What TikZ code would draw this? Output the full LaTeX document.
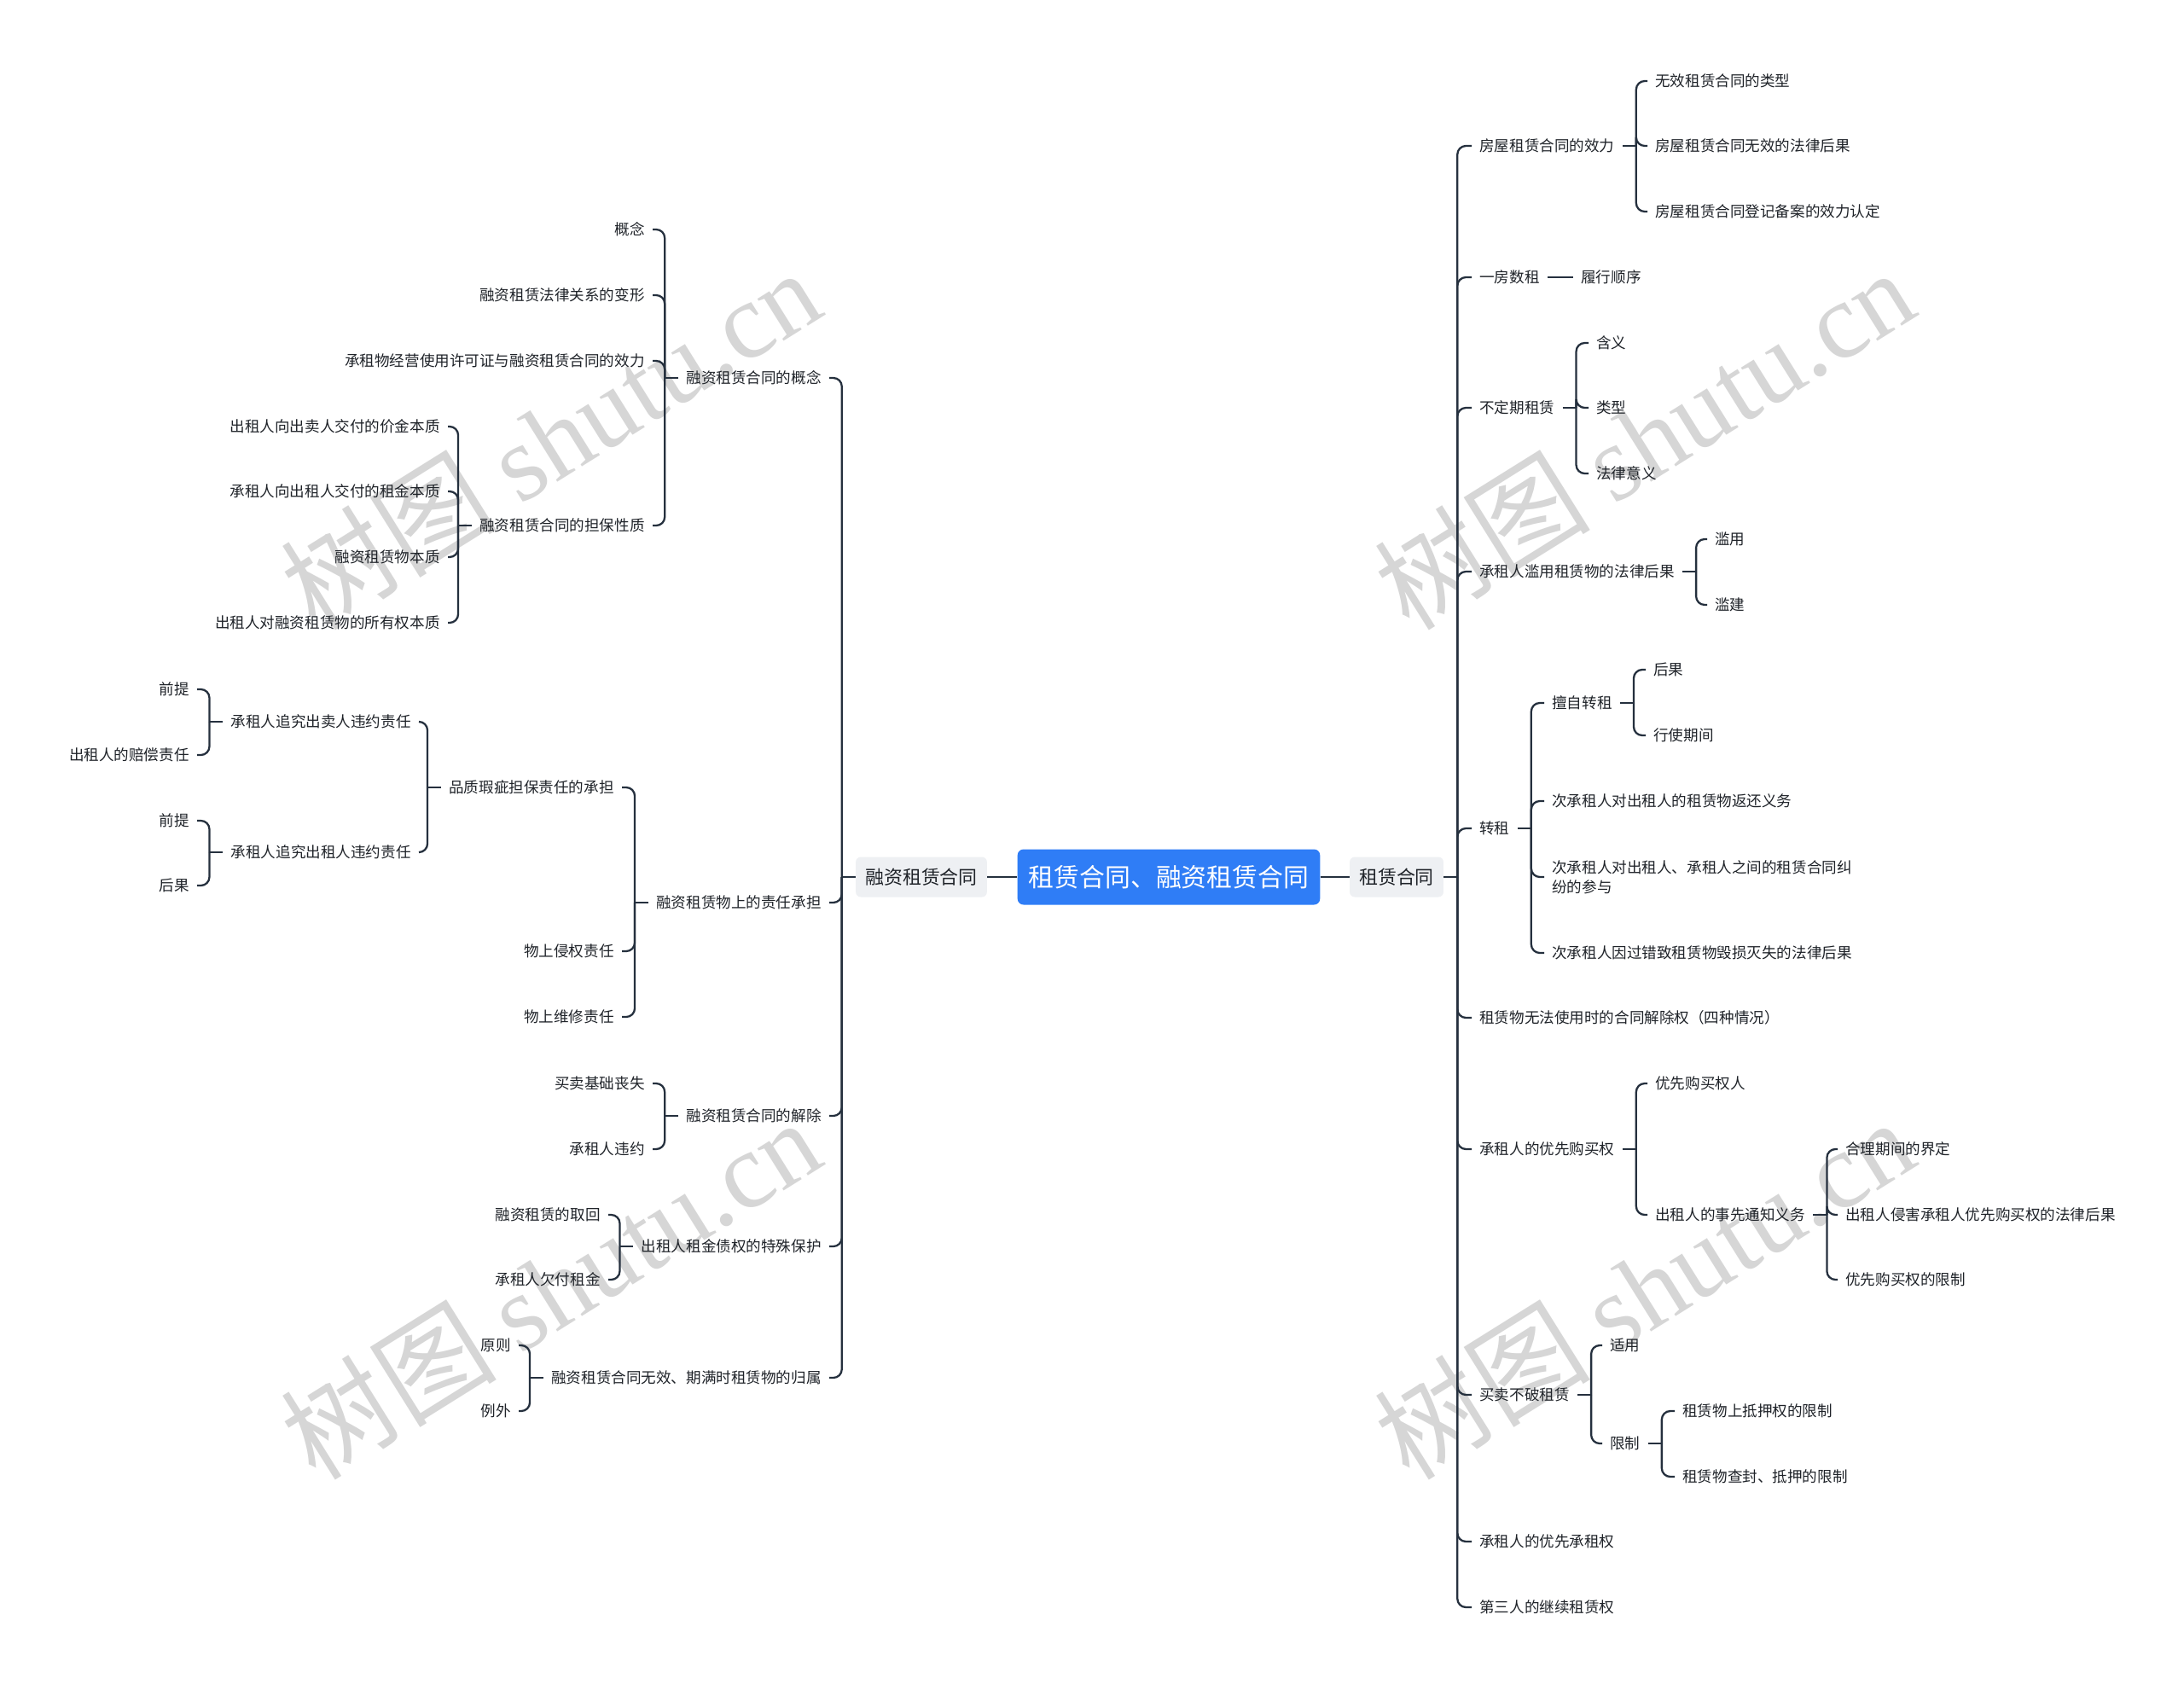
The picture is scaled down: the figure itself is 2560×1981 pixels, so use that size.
\documentclass[tikz,border=0pt]{standalone}
\usepackage{fontspec}
\setmainfont{Noto Sans CJK SC}
\newfontfamily\latinserif{Liberation Serif}
\usepackage{tikz}

\definecolor{ink}{HTML}{1F2329}
\definecolor{branch}{HTML}{25303E}
\definecolor{rootblue}{HTML}{2F7DF6}
\definecolor{topicgray}{HTML}{EEF0F3}

\begin{document}
\begin{tikzpicture}[
    x=0.02cm, y=-0.02cm,
    every node/.style={text=ink, font=\fontsize{10}{13}\selectfont, inner xsep=0.18cm, inner ysep=0.08cm},
    leafr/.style={anchor=west},
    leafl/.style={anchor=east},
    root/.style={fill=rootblue, text=white, rounded corners=0.14cm, font=\fontsize{17}{20}\selectfont, inner xsep=0.26cm, minimum height=1.3cm},
    topic/.style={fill=topicgray, rounded corners=0.12cm, font=\fontsize{12.5}{15}\selectfont, inner xsep=0.22cm, minimum height=0.94cm},
    conn/.style={draw=branch, line width=1.3pt, rounded corners=0.2cm},
    wmark/.style={text=black!16, font=\fontsize{72}{72}\selectfont, rotate=32}
  ]
  \useasboundingbox[fill=white] (0,0) rectangle (2560,1981);

  % watermark
  \node[wmark] (wm1) at (645,514) {树图 {\latinserif shutu.cn}};
  \node[wmark] (wm2) at (645,1510) {树图 {\latinserif shutu.cn}};
  \node[wmark] (wm3) at (1927,514) {树图 {\latinserif shutu.cn}};
  \node[wmark] (wm4) at (1927,1510) {树图 {\latinserif shutu.cn}};

  % centre
  \node[root] (root) at (1370,1028) {租赁合同、融资租赁合同};
  \node[topic] (lmain) at (1080,1028) {融资租赁合同};
  \node[topic] (rmain) at (1637,1028) {租赁合同};

  % right side
  \node[leafr] (r1) at (1725,171) {房屋租赁合同的效力};
  \node[leafr] (r2) at (1725,325) {一房数租};
  \node[leafr] (r3) at (1725,478) {不定期租赁};
  \node[leafr] (r4) at (1725,670) {承租人滥用租赁物的法律后果};
  \node[leafr] (r5) at (1725,971) {转租};
  \node[leafr] (r6) at (1725,1193) {租赁物无法使用时的合同解除权（四种情况）};
  \node[leafr] (r7) at (1725,1347) {承租人的优先购买权};
  \node[leafr] (r8) at (1725,1635) {买卖不破租赁};
  \node[leafr] (r9) at (1725,1807) {承租人的优先承租权};
  \node[leafr] (r10) at (1725,1884) {第三人的继续租赁权};

  \node[leafr] (r1a) at (1931,95) {无效租赁合同的类型};
  \node[leafr] (r1b) at (1931,171) {房屋租赁合同无效的法律后果};
  \node[leafr] (r1c) at (1931,248) {房屋租赁合同登记备案的效力认定};
  \node[leafr] (r2a) at (1844,325) {履行顺序};
  \node[leafr] (r3a) at (1862,402) {含义};
  \node[leafr] (r3b) at (1862,478) {类型};
  \node[leafr] (r3c) at (1862,555) {法律意义};
  \node[leafr] (r4a) at (2001,632) {滥用};
  \node[leafr] (r4b) at (2001,709) {滥建};
  \node[leafr] (r5a) at (1810,824) {擅自转租};
  \node[leafr] (r5a1) at (1929,785) {后果};
  \node[leafr] (r5a2) at (1929,862) {行使期间};
  \node[leafr] (r5b) at (1810,939) {次承租人对出租人的租赁物返还义务};
  \node[leafr, align=left] (r5c) at (1810,1028) {次承租人对出租人、承租人之间的租赁合同纠\\纷的参与};
  \node[leafr] (r5d) at (1810,1117) {次承租人因过错致租赁物毁损灭失的法律后果};
  \node[leafr] (r7a) at (1931,1270) {优先购买权人};
  \node[leafr] (r7b) at (1931,1424) {出租人的事先通知义务};
  \node[leafr] (r7b1) at (2154,1347) {合理期间的界定};
  \node[leafr] (r7b2) at (2154,1424) {出租人侵害承租人优先购买权的法律后果};
  \node[leafr] (r7b3) at (2154,1500) {优先购买权的限制};
  \node[leafr] (r8a) at (1878,1577) {适用};
  \node[leafr] (r8b) at (1878,1692) {限制};
  \node[leafr] (r8b1) at (1963,1654) {租赁物上抵押权的限制};
  \node[leafr] (r8b2) at (1963,1731) {租赁物查封、抵押的限制};

  % left side
  \node[leafl] (l1) at (972,443) {融资租赁合同的概念};
  \node[leafl] (l2) at (972,1058) {融资租赁物上的责任承担};
  \node[leafl] (l3) at (972,1308) {融资租赁合同的解除};
  \node[leafl] (l4) at (972,1461) {出租人租金债权的特殊保护};
  \node[leafl] (l5) at (972,1615) {融资租赁合同无效、期满时租赁物的归属};

  \node[leafl] (l1a) at (765,269) {概念};
  \node[leafl] (l1b) at (765,346) {融资租赁法律关系的变形};
  \node[leafl] (l1c) at (765,423) {承租物经营使用许可证与融资租赁合同的效力};
  \node[leafl] (l1d) at (765,616) {融资租赁合同的担保性质};
  \node[leafl] (l1d1) at (525,500) {出租人向出卖人交付的价金本质};
  \node[leafl] (l1d2) at (525,576) {承租人向出租人交付的租金本质};
  \node[leafl] (l1d3) at (525,653) {融资租赁物本质};
  \node[leafl] (l1d4) at (525,730) {出租人对融资租赁物的所有权本质};
  \node[leafl] (l2a) at (729,923) {品质瑕疵担保责任的承担};
  \node[leafl] (l2b) at (729,1115) {物上侵权责任};
  \node[leafl] (l2c) at (729,1192) {物上维修责任};
  \node[leafl] (l2a1) at (491,846) {承租人追究出卖人违约责任};
  \node[leafl] (l2a2) at (491,999) {承租人追究出租人违约责任};
  \node[leafl] (l2a1a) at (231,808) {前提};
  \node[leafl] (l2a1b) at (231,885) {出租人的赔偿责任};
  \node[leafl] (l2a2a) at (231,962) {前提};
  \node[leafl] (l2a2b) at (231,1038) {后果};
  \node[leafl] (l3a) at (765,1270) {买卖基础丧失};
  \node[leafl] (l3b) at (765,1347) {承租人违约};
  \node[leafl] (l4a) at (713,1424) {融资租赁的取回};
  \node[leafl] (l4b) at (713,1500) {承租人欠付租金};
  \node[leafl] (l5a) at (608,1577) {原则};
  \node[leafl] (l5b) at (608,1654) {例外};

  % connectors
  \draw[conn] (root) -- (lmain);
  \draw[conn] (root) -- (rmain);
  \draw[conn] (r2) -- (r2a);
  \foreach \p/\cs in {rmain/{r1,r2,r3,r4,r5,r6,r7,r8,r9,r10}, r1/{r1a,r1b,r1c},
      r3/{r3a,r3b,r3c}, r4/{r4a,r4b}, r5/{r5a,r5b,r5c,r5d}, r5a/{r5a1,r5a2},
      r7/{r7a,r7b}, r7b/{r7b1,r7b2,r7b3}, r8/{r8a,r8b}, r8b/{r8b1,r8b2}} {
    \draw[conn] (\p.east) -- ++(16,0) coordinate (fork);
    \foreach \c in \cs \draw[conn] (fork) |- (\c.west);
  }
  \foreach \p/\cs in {lmain/{l1,l2,l3,l4,l5}, l1/{l1a,l1b,l1c,l1d}, l1d/{l1d1,l1d2,l1d3,l1d4},
      l2/{l2a,l2b,l2c}, l2a/{l2a1,l2a2}, l2a1/{l2a1a,l2a1b}, l2a2/{l2a2a,l2a2b},
      l3/{l3a,l3b}, l4/{l4a,l4b}, l5/{l5a,l5b}} {
    \draw[conn] (\p.west) -- ++(-16,0) coordinate (fork);
    \foreach \c in \cs \draw[conn] (fork) |- (\c.east);
  }
\end{tikzpicture}
\end{document}
